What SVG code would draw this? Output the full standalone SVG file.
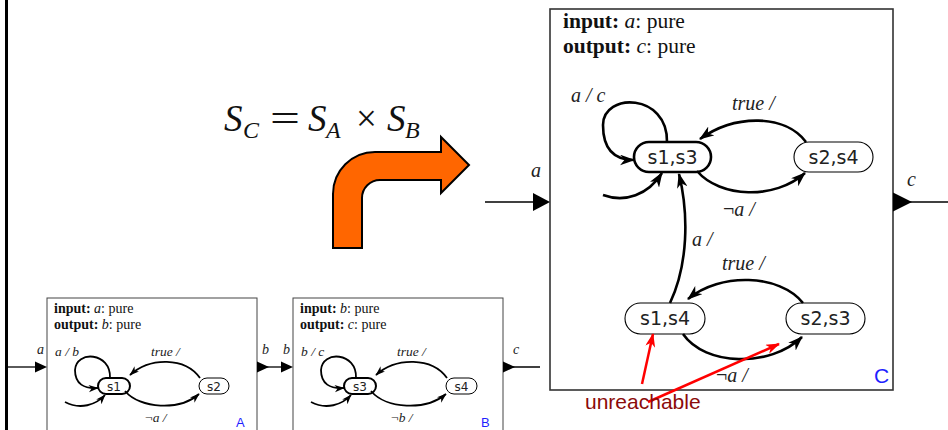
<svg xmlns="http://www.w3.org/2000/svg" width="948" height="430" viewBox="0 0 948 430">
<defs>
<style>
.box{fill:#fff;stroke:#444;stroke-width:1}
.boxC{fill:#fff;stroke:#333;stroke-width:1.6}
.st{fill:#fff;stroke:#000;stroke-width:1.1}
.init{fill:#fff;stroke:#000;stroke-width:2.6}
.stA{fill:#fff;stroke:#000;stroke-width:1}
.initA{fill:#fff;stroke:#000;stroke-width:2}
.nt{font-family:"DejaVu Sans",sans-serif;text-anchor:middle;fill:#222}
.lbl{font-family:"Liberation Serif",serif;font-style:italic;fill:#222}
.hdr{font-family:"Liberation Serif",serif;fill:#111}
.b{font-weight:bold;font-style:normal}
.i{font-style:italic}
.trC{fill:none;stroke:#000;stroke-width:2.6}
.trA{fill:none;stroke:#000;stroke-width:1.8}
.port{fill:none;stroke:#000;stroke-width:1.3}
.red{fill:none;stroke:#f00;stroke-width:2.5}
.tag{font-family:"Liberation Sans",Arial,sans-serif;fill:#1f1fff}
</style>
<marker id="ahC" markerUnits="userSpaceOnUse" markerWidth="15" markerHeight="11" viewBox="0 0 14 10" refX="13" refY="5" orient="auto"><path d="M0,0 L14,5 L0,10 L4,5 Z" fill="#000"/></marker>
<marker id="ahA" markerUnits="userSpaceOnUse" markerWidth="10" markerHeight="8" viewBox="0 0 14 10" refX="13" refY="5" orient="auto"><path d="M0,0 L14,5 L0,10 L4,5 Z" fill="#000"/></marker>
<marker id="ahR" markerUnits="userSpaceOnUse" markerWidth="14" markerHeight="10" viewBox="0 0 14 10" refX="13" refY="5" orient="auto"><path d="M0,0 L14,5 L0,10 L4,5 Z" fill="#f00"/></marker>
</defs>
<rect width="948" height="430" fill="#fff"/>
<rect x="5" y="0" width="3" height="430" fill="#000"/>

<!-- formula -->
<g id="formula" font-family="Liberation Serif,serif" font-style="italic" fill="#111">
<text x="224" y="131" font-size="37">S</text>
<text x="243" y="138" font-size="24">C</text>
<text x="270" y="131" font-size="37" font-style="normal" textLength="30" lengthAdjust="spacingAndGlyphs">=</text>
<text x="308" y="131" font-size="37">S</text>
<text x="326" y="138" font-size="24">A</text>
<text x="356" y="131" font-size="37" font-style="normal">×</text>
<text x="387" y="131" font-size="37">S</text>
<text x="405" y="138" font-size="24">B</text>
</g>

<!-- orange bent arrow -->
<g id="bigArrow">
<path d="M333,248 V194 A42,42 0 0 1 375,152 H441 V137 L469,165 L441,193 V180 H380 A18,18 0 0 0 362,198 V248 Z" fill="#ff6600" stroke="#000" stroke-width="2"/>
</g>

<!-- Box A -->
<g id="boxA">
<rect class="box" x="47" y="298" width="210" height="140"/>
<text class="hdr" x="54" y="313" font-size="14"><tspan class="b">input:</tspan> <tspan class="i">a</tspan>: pure</text>
<text class="hdr" x="54" y="329" font-size="14"><tspan class="b">output:</tspan> <tspan class="i">b</tspan>: pure</text>
<text class="tag" x="236" y="427" font-size="13">A</text>
</g>
<g id="A_s1"><rect class="initA" x="98" y="378" width="32" height="16" rx="8"/><text class="nt" x="114" y="390.5" font-size="12">s1</text></g>
<g id="A_s2"><rect class="stA" x="199" y="378" width="30" height="16" rx="8"/><text class="nt" x="214" y="390.5" font-size="12">s2</text></g>

<!-- Box B -->
<g id="boxB">
<rect class="box" x="293" y="298" width="210" height="140"/>
<text class="hdr" x="300" y="313" font-size="14"><tspan class="b">input:</tspan> <tspan class="i">b</tspan>: pure</text>
<text class="hdr" x="300" y="329" font-size="14"><tspan class="b">output:</tspan> <tspan class="i">c</tspan>: pure</text>
<text class="tag" x="481" y="427" font-size="13">B</text>
</g>
<g id="B_s3"><rect class="initA" x="344" y="378" width="32" height="16" rx="8"/><text class="nt" x="360" y="390.5" font-size="12">s3</text></g>
<g id="B_s4"><rect class="stA" x="446" y="378" width="31" height="16" rx="8"/><text class="nt" x="461.5" y="390.5" font-size="12">s4</text></g>

<!-- Box C -->
<g id="boxC">
<rect class="boxC" x="550" y="9" width="343" height="381"/>
<text class="hdr" x="563" y="28" font-size="21.5"><tspan class="b">input:</tspan> <tspan class="i">a</tspan>: pure</text>
<text class="hdr" x="563" y="53" font-size="21.5"><tspan class="b">output:</tspan> <tspan class="i">c</tspan>: pure</text>
<text class="tag" x="874" y="383" font-size="21">C</text>
</g>
<g id="C_s1s3"><rect class="init" x="634" y="142" width="77" height="30" rx="15"/><text class="nt" x="672.5" y="163.5" font-size="19">s1,s3</text></g>
<g id="C_s2s4"><rect class="st" x="794" y="142" width="79" height="30" rx="15"/><text class="nt" x="833.5" y="163.5" font-size="19">s2,s4</text></g>
<g id="C_s1s4"><rect class="st" x="625" y="303" width="80" height="31" rx="15.5"/><text class="nt" x="665" y="325" font-size="19">s1,s4</text></g>
<g id="C_s2s3"><rect class="st" x="786" y="303" width="79" height="31" rx="15.5"/><text class="nt" x="825.5" y="325" font-size="19">s2,s3</text></g>

<!-- connectors -->
<g id="connectors">
<!-- ports -->
<line class="port" x1="8" y1="367" x2="40" y2="367"/>
<path d="M35,361.5 L47,367 L35,372.5 Z" fill="#000"/>
<line class="port" x1="257" y1="367" x2="286" y2="367"/>
<path d="M257,361.5 L269,367 L257,372.5 Z" fill="#000"/>
<path d="M281,361.5 L293,367 L281,372.5 Z" fill="#000"/>
<line class="port" x1="503" y1="367" x2="540" y2="367"/>
<path d="M503,361.5 L515,367 L503,372.5 Z" fill="#000"/>
<line class="port" x1="485" y1="202" x2="540" y2="202"/>
<path d="M533,193 L550,202 L533,211 Z" fill="#000"/>
<line class="port" x1="893" y1="202" x2="948" y2="202"/>
<path d="M893,192.5 L912,202 L893,211.5 Z" fill="#000"/>

<!-- A transitions -->
<path class="trA" d="M110,378 C111,352 76,350 75,370 C75,384 84,389 98,388" marker-end="url(#ahA)"/>
<path class="trA" d="M65,402 C80,410 96,405 105,395" marker-end="url(#ahA)"/>
<path class="trA" d="M125,391 C140,409 180,411 199,394" marker-end="url(#ahA)"/>
<path class="trA" d="M200,378 C185,357 150,357 130,375" marker-end="url(#ahA)"/>
<!-- B transitions -->
<path class="trA" d="M356,378 C357,352 322,350 321,370 C321,384 330,389 344,388" marker-end="url(#ahA)"/>
<path class="trA" d="M311,402 C326,410 342,405 351,395" marker-end="url(#ahA)"/>
<path class="trA" d="M371,391 C386,409 426,411 446,394" marker-end="url(#ahA)"/>
<path class="trA" d="M447,378 C432,357 396,357 376,375" marker-end="url(#ahA)"/>

<!-- C transitions -->
<path class="trC" d="M667,142 C668,93 603,92 603,125 C603,150 615,160 634,160" marker-end="url(#ahC)"/>
<path class="trC" d="M603,195 C625,203 648,195 662,173" marker-end="url(#ahC)"/>
<path class="trC" d="M806,142 C785,114 735,114 700,139" marker-end="url(#ahC)"/>
<path class="trC" d="M697,171 C720,198 775,200 805,173" marker-end="url(#ahC)"/>
<path class="trC" d="M670,303 C688,265 689,215 679,174" marker-end="url(#ahC)"/>
<path class="trC" d="M803,303 C780,274 720,272 688,299" marker-end="url(#ahC)"/>
<path class="trC" d="M683,334 C705,366 770,368 802,337" marker-end="url(#ahC)"/>

<!-- red annotation arrows -->
<path class="red" d="M642,384 L653,334" marker-end="url(#ahR)"/>
<path class="red" d="M648,402 L779,344" marker-end="url(#ahR)"/>
</g>

<!-- labels -->
<g id="labels">
<text class="lbl" x="37" y="354" font-size="14">a</text>
<text class="lbl" x="262" y="354" font-size="14">b</text>
<text class="lbl" x="283" y="354" font-size="14">b</text>
<text class="lbl" x="513" y="354" font-size="14">c</text>
<text class="lbl" x="55" y="356" font-size="13.5">a / b</text>
<text class="lbl" x="151" y="356" font-size="13.5">true /</text>
<text class="lbl" x="145" y="422" font-size="13.5"><tspan font-style="normal">¬</tspan>a /</text>
<text class="lbl" x="301" y="356" font-size="13.5">b / c</text>
<text class="lbl" x="397" y="356" font-size="13.5">true /</text>
<text class="lbl" x="391" y="422" font-size="13.5"><tspan font-style="normal">¬</tspan>b /</text>

<text class="lbl" x="531" y="177" font-size="20">a</text>
<text class="lbl" x="907" y="186" font-size="20">c</text>
<text class="lbl" x="571" y="102" font-size="20">a / c</text>
<text class="lbl" x="732" y="110" font-size="20">true /</text>
<text class="lbl" x="723" y="216" font-size="20"><tspan font-style="normal">¬</tspan>a /</text>
<text class="lbl" x="692" y="246" font-size="20">a /</text>
<text class="lbl" x="722" y="270" font-size="20">true /</text>
<text class="lbl" x="716" y="382" font-size="20"><tspan font-style="normal">¬</tspan>a /</text>
<text x="585" y="409" font-size="21" font-family="Liberation Sans,Arial,sans-serif" fill="#8b0a0a">unreachable</text>
</g>
</svg>
